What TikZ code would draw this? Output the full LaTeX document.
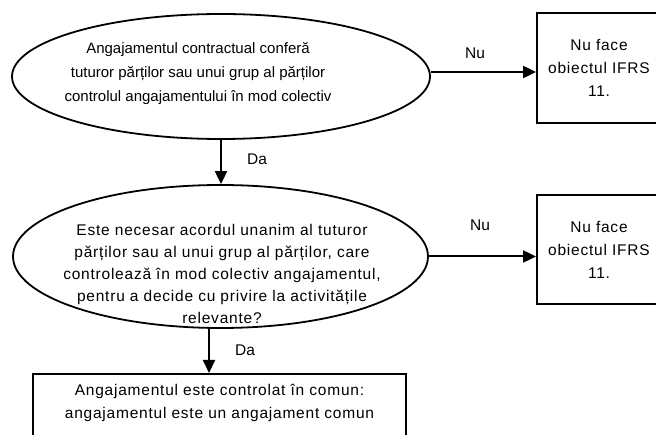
\documentclass[tikz,border=0pt]{standalone}
\usepackage{fontspec}
\setmainfont{Liberation Sans}
\newfontfamily\widesans[LetterSpace=5]{Liberation Sans}
\usetikzlibrary{arrows.meta, positioning, shapes.geometric}

\tikzset{
    question/.style={draw, ellipse, line width=1.8pt, inner sep=0pt},
    result/.style={draw, rectangle, line width=1.8pt, inner sep=0pt, align=center,
        font=\widesans\fontsize{15.5}{23}\selectfont},
    flow/.style={line width=2pt, -{Triangle[length=13pt, width=12pt]}},
    answer/.style={font=\fontsize{15.5}{18}\selectfont},
}

\begin{document}
\begin{tikzpicture}[x=1pt, y=-1pt]
    \useasboundingbox (0,0) rectangle (656,435);
    \clip (0,0) rectangle (656,435);

    % the two questions
    \node[question, minimum width=418pt, minimum height=125pt] (Q1) at (221, 76.5) {};
    \node[align=center, font=\fontsize{15}{24}\selectfont] (Q1text) at (198, 73.5)
        {Angajamentul contractual conferă\\ tuturor părților sau unui grup al părților\\ controlul angajamentului în mod colectiv};

    \node[question, minimum width=415pt, minimum height=143pt] (Q2) at (220.5, 256.5) {};
    \node[align=center, font=\widesans\fontsize{15.5}{22}\selectfont] (Q2text) at (222, 274)
        {Este necesar acordul unanim al tuturor\\ părților sau al unui grup al părților, care\\ controlează în mod colectiv angajamentul,\\ pentru a decide cu privire la activitățile\\ relevante?};

    % outcomes
    \node[result, minimum width=124pt, minimum height=110pt] (N1) at (599, 68) {Nu face\\ obiectul IFRS\\ 11.};
    \node[result, minimum width=124pt, minimum height=109pt] (N2) at (599, 249.5) {Nu face\\ obiectul IFRS\\ 11.};
    \node[result, anchor=north, minimum width=373pt, minimum height=80pt] (J) at (219.5, 373) {};
    \node[align=center, font=\widesans\fontsize{15.5}{23}\selectfont] (Jtext) at (219.5, 403)
        {Angajamentul este controlat în comun:\\ angajamentul este un angajament comun};

    % connectors
    \draw[flow] ([yshift=4.5pt]Q1.east) -- ([yshift=4.5pt]Q1.east -| N1.west);
    \draw[flow] (Q2.east) -- (Q2.east -| N2.west);
    \draw[flow] (Q1.south) -- (Q1.south |- Q2.north);
    \draw[flow] ([xshift=-11.5pt]Q2.south) -- ([xshift=-11.5pt]Q2.south |- J.north);

    \node[answer] (nu1) at (475, 53) {Nu};
    \node[answer] (nu2) at (480, 225) {Nu};
    \node[answer] (da1) at (257, 159) {Da};
    \node[answer] (da2) at (245, 350) {Da};
\end{tikzpicture}
\end{document}
